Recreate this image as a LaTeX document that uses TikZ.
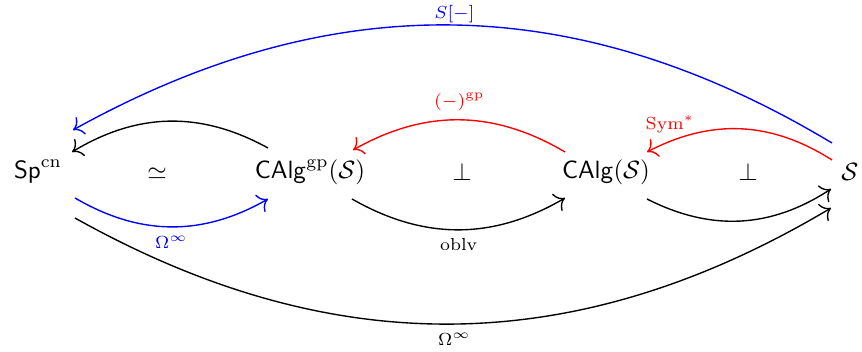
\documentclass[tikz,border=0pt]{standalone}
\usepackage{amsmath,amssymb}
\usetikzlibrary{arrows.meta}
\begin{document}
\begin{tikzpicture}[x=0.4pt,y=0.4pt,
  arr/.style={-{To[scale=1.35]}, line width=0.55pt},
  lbl/.style={font=\scriptsize},
  obj/.style={inner sep=0pt}]
\useasboundingbox (0,0) rectangle (862,-352);
\node[obj] (Sp) at (38,-172) {$\mathsf{Sp}^{\mathrm{cn}}$};
\node[obj] (Gp) at (310,-172) {$\mathsf{CAlg}^{\mathrm{gp}}(\mathcal{S})$};
\node[obj] (Ca) at (606,-172) {$\mathsf{CAlg}(\mathcal{S})$};
\node[obj] (S) at (850,-172) {$\mathcal{S}$};
\node[obj] (eq) at (157,-174) {$\simeq$};
\node[obj] (p1) at (462,-172) {$\perp$};
\node[obj] (p2) at (748,-172) {$\perp$};
% top long blue
\draw[arr, blue] ([shift={(-18,29)}]S.center) to[bend right=30]
  node[above, lbl, blue, inner sep=0.8pt]{$S[-]$} ([shift={(35,42)}]Sp.center);
% black Gp -> Sp
\draw[arr] ([shift={(-42,24)}]Gp.center) to[bend right=30] ([shift={(34,20)}]Sp.center);
% blue Sp -> Gp
\draw[arr, blue] ([shift={(37,-26)}]Sp.center) to[bend right=30]
  node[below, lbl, blue]{$\Omega^\infty$} ([shift={(-42,-27)}]Gp.center);
% red Ca -> Gp
\draw[arr, red] ([shift={(-41,20)}]Ca.center) to[bend right=30]
  node[above, lbl, red]{$(-)^{\mathrm{gp}}$} ([shift={(43,22)}]Gp.center);
% black Gp -> Ca
\draw[arr] ([shift={(42,-27)}]Gp.center) to[bend right=30]
  node[below, lbl]{oblv} ([shift={(-41,-26)}]Ca.center);
% red S -> Ca
\draw[arr, red] ([shift={(-18,12)}]S.center) to[bend right=30]
  node[pos=0.88, above, lbl, red]{$\mathrm{Sym}^*$} ([shift={(41,20)}]Ca.center);
% black Ca -> S
\draw[arr] ([shift={(41,-27)}]Ca.center) to[bend right=30] ([shift={(-19,-17)}]S.center);
% long black Sp -> S
\draw[arr] ([shift={(37,-46)}]Sp.center) to[bend right=30]
  node[below, lbl]{$\Omega^\infty$} ([shift={(-19,-36)}]S.center);
\end{tikzpicture}
\end{document}
